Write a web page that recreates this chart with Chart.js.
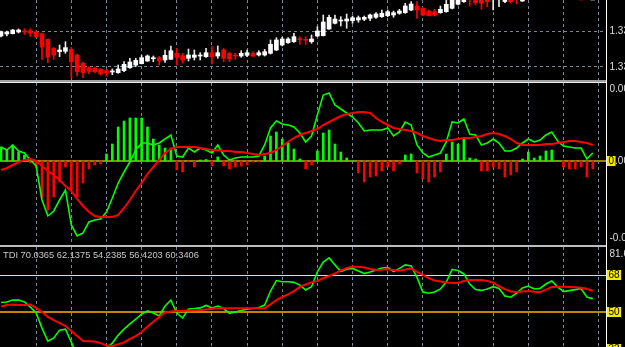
<!DOCTYPE html>
<html>
<head>
<meta charset="utf-8">
<script src="https://cdn.jsdelivr.net/npm/chart.js@4.4.0/dist/chart.umd.min.js"></script>
<style>
html, body { margin: 0; padding: 0; background: #000; }
#wrap { position: relative; width: 625px; height: 347px; overflow: hidden; background: #000; }
#wrap canvas { position: absolute; left: 0; }
.sep { position: absolute; left: 0; width: 606px; }
#axisLine { position: absolute; left: 606px; top: 0; width: 1px; height: 347px; background: #fff; }
</style>
</head>
<body>
<div id="wrap">
    <canvas id="pricePane" width="625" height="80" style="top:0"></canvas>
    <div class="sep" style="top:80px;height:2px;background:#a0a0a0"></div>
    <div class="sep" style="top:82px;height:1px;background:#ececec"></div>
    <canvas id="macdPane" width="625" height="162" style="top:83px"></canvas>
    <div class="sep" style="top:245px;height:2px;background:#bdbdbd"></div>
    <canvas id="tdiPane" width="625" height="100" style="top:247px"></canvas>
    <div id="axisLine"></div>
</div>
<script>
// --- price pane (candles) ---
const opens = [
    1.3331, 1.3333, 1.33333, 1.3335, 1.33355, 1.33363, 1.3335, 1.33333, 1.33277, 1.33187,
    1.33153, 1.33157, 1.33177, 1.3312, 1.33037, 1.32993, 1.32987, 1.32977, 1.32963, 1.3295,
    1.32943, 1.32963, 1.32993, 1.3302, 1.33033, 1.3306, 1.33083, 1.33093, 1.3307, 1.33077,
    1.33137, 1.33113, 1.33087, 1.33097, 1.3311, 1.33103, 1.33143, 1.3311, 1.3317, 1.33137,
    1.33116, 1.3311, 1.33117, 1.33137, 1.3312, 1.3312, 1.33137, 1.3317, 1.3322, 1.33243,
    1.33253, 1.3328, 1.33273, 1.33253, 1.3331, 1.33313, 1.3338, 1.33437, 1.3346, 1.3346,
    1.33463, 1.3347, 1.33477, 1.33487, 1.33497, 1.33503, 1.33513, 1.3352, 1.33537, 1.33543,
    1.3357, 1.3361, 1.33587, 1.3356, 1.33553, 1.33543, 1.33553, 1.33587, 1.33627, 1.33653,
    1.3373, 1.3370, 1.3369, 1.3370, 1.3369, 1.3370, 1.33655, 1.3370, 1.3373, 1.3366,
    1.3372, 1.3375, 1.3373, 1.3376, 1.3379, 1.3382, 1.3380, 1.3378, 1.3377, 1.3375,
    1.3374, 1.3371
];
const highs = [
    1.3336, 1.3336, 1.33375, 1.3338, 1.33383, 1.33383, 1.3336, 1.3334, 1.3328, 1.33195,
    1.3322, 1.33253, 1.33197, 1.3313, 1.3305, 1.33003, 1.3300, 1.32985, 1.32977, 1.3298,
    1.3302, 1.33053, 1.33087, 1.33087, 1.33115, 1.3312, 1.3311, 1.33105, 1.3317, 1.3321,
    1.33187, 1.33137, 1.3318, 1.3317, 1.33143, 1.33187, 1.33203, 1.3321, 1.33187, 1.3315,
    1.33137, 1.33163, 1.3317, 1.33153, 1.33163, 1.33177, 1.3327, 1.33293, 1.33297, 1.33293,
    1.33337, 1.33303, 1.33303, 1.3332, 1.33403, 1.3352, 1.3352, 1.3352, 1.33503, 1.3353,
    1.3351, 1.3351, 1.3351, 1.3353, 1.33543, 1.3357, 1.3357, 1.3356, 1.33577, 1.33637,
    1.33653, 1.33653, 1.33597, 1.3357, 1.33577, 1.3361, 1.3367, 1.3371, 1.3372, 1.3373,
    1.3375, 1.3372, 1.3371, 1.3372, 1.3375, 1.3376, 1.3371, 1.3372, 1.3375, 1.3372,
    1.3377, 1.3378, 1.3378, 1.3381, 1.3384, 1.3384, 1.3382, 1.3380, 1.3379, 1.3377,
    1.3376, 1.3374
];
const lows = [
    1.3330, 1.3331, 1.3333, 1.3334, 1.33327, 1.33307, 1.33293, 1.33077, 1.33043, 1.33077,
    1.33103, 1.33137, 1.32887, 1.3291, 1.32893, 1.3293, 1.3294, 1.3292, 1.3291, 1.32923,
    1.32937, 1.32953, 1.32987, 1.33003, 1.3303, 1.33055, 1.33053, 1.3302, 1.33047, 1.33075,
    1.3302, 1.33037, 1.3306, 1.3307, 1.3307, 1.33097, 1.3303, 1.33087, 1.33053, 1.33053,
    1.33077, 1.33097, 1.33103, 1.33103, 1.3311, 1.3311, 1.3313, 1.33163, 1.3321, 1.33237,
    1.33247, 1.33227, 1.33227, 1.33237, 1.33303, 1.3331, 1.33377, 1.3343, 1.3341, 1.33387,
    1.33437, 1.33447, 1.33463, 1.33463, 1.33487, 1.33497, 1.33503, 1.33497, 1.33527, 1.33537,
    1.33563, 1.33487, 1.3351, 1.3351, 1.3351, 1.33537, 1.33547, 1.3358, 1.3362, 1.33645,
    1.3361, 1.3362, 1.33577, 1.33603, 1.3357, 1.33603, 1.33643, 1.3364, 1.3363, 1.33655,
    1.3370, 1.3371, 1.3372, 1.3375, 1.3378, 1.3378, 1.3376, 1.3375, 1.3373, 1.3372,
    1.3370, 1.3369
];
const closes = [
    1.33353, 1.3335, 1.3337, 1.3337, 1.3335, 1.33337, 1.33303, 1.3320, 1.33097, 1.3312,
    1.3317, 1.33193, 1.33053, 1.32953, 1.32943, 1.32957, 1.32953, 1.3293, 1.3294, 1.32955,
    1.3298, 1.33027, 1.3305, 1.33067, 1.33093, 1.3311, 1.33089, 1.3306, 1.33117, 1.33163,
    1.33097, 1.3307, 1.3312, 1.3312, 1.33116, 1.33143, 1.33103, 1.33143, 1.33087, 1.3308,
    1.3311, 1.33137, 1.33143, 1.3311, 1.33143, 1.33153, 1.33227, 1.3327, 1.3328, 1.3328,
    1.33303, 1.33274, 1.33267, 1.3328, 1.3336, 1.3345, 1.33497, 1.3348, 1.33466, 1.3348,
    1.33493, 1.33493, 1.33497, 1.3352, 1.3353, 1.33537, 1.33553, 1.33543, 1.3356, 1.3361,
    1.3363, 1.3357, 1.3352, 1.33513, 1.3352, 1.33577, 1.33627, 1.3369, 1.3370, 1.3371,
    1.3369, 1.33643, 1.33637, 1.33653, 1.3373, 1.3374, 1.3369, 1.33653, 1.3369, 1.3370,
    1.3375, 1.3373, 1.3376, 1.3379, 1.3382, 1.3380, 1.3378, 1.3377, 1.3375, 1.3374,
    1.3371, 1.3372
];
const priceGrid = [1.3300, 1.3336];
const priceLabels = ['1.3300', '1.3336'];

// --- middle pane (histogram + two lines) ---
const histValues = [
    14, 11, 16, 9, 6, -2, -7, -37, -49, -36,
    -21, -6, -29, -36, -22, -8, -4, -3, 7, 17,
    34, 40, 43, 43, 43, 34, 22, 16, 13, 13,
    -9, -11, -1, -6, 1, 1.5, -5, 4, -5, -8,
    -6, -5, -4, -1, -1, 5, 25, 29, 22, 18,
    12, 2, -8, -4, 10, 28, 31, 17, 9, 3,
    0, -12, -21, -16, -15, -10, -6, -10, -3, 6,
    7, -12, -18, -21, -16, -11, 7, 19, 17, 22,
    3, 2, -10, -10, -6, -8, -16, -14, -11, 2,
    9, 3, 5, 10, 11, 0, -6, -8, -8, -6,
    -16, -8
];
const fastLine = [
    14, 11, 16, 10, 8, 1, -5, -39, -55, -50,
    -39, -29, -64, -75, -72, -61, -59, -58, -51, -37,
    -22, -11, -1, 11, 18, 18, 16, 18, 22, 26,
    5, 4, 13, 9, 13, 11, 8, 16, 6, 1,
    3, 4, 4, 4, 5, 16, 33, 40, 37, 36,
    34, 28, 19, 25, 46, 66, 68, 56, 52, 48,
    44, 38, 30, 31, 31, 31, 33, 25, 29, 39,
    36, 16, 8, 4, 6, 8, 19, 39, 38, 42,
    27, 26, 16, 18, 22, 18, 10, 10, 13, 18,
    22, 19, 21, 26, 29, 20, 15, 14, 13, 13,
    2, 8
];
const slowLine = [
    -9, -7, -4, -1, 1, 2, 0, -5, -10, -14,
    -19, -25, -30, -38, -45, -51, -55, -56, -56, -56,
    -54, -47, -39, -30, -22, -13, -6, 1, 8, 12,
    14, 14, 14, 14, 13, 12, 11, 11, 10, 10,
    9, 9, 8, 7, 6, 7, 8, 11, 15, 19,
    23, 26, 28, 30, 32, 36, 39, 42, 45, 47,
    48, 49, 49, 48, 43, 39, 36, 33, 32, 31,
    30, 28, 25, 23, 21, 20, 21, 21, 22, 23,
    23, 24, 25, 27, 28, 27, 25, 22, 18, 16,
    16, 16, 16, 17, 17, 18, 19, 20, 20, 19,
    18, 16
];
const macdLabels = ['0.0008', '0.0000', '-0.0008'];

// --- TDI pane ---
const tdiPrice = [
    54.6, 54.9, 55.8, 55.8, 54.9, 52.4, 49.5, 42.2, 35.9, 37.4,
    41.2, 41.7, 35.4, 29.1, 27.6, 27.6, 28.6, 30.5, 32.5, 34.9,
    38.8, 41.7, 44.2, 46.6, 49.0, 50.5, 49.5, 48.1, 52.9, 55.8,
    49.5, 47.1, 51.5, 51.7, 52.0, 53.2, 52.0, 52.9, 51.7, 49.3,
    50.0, 50.7, 51.5, 51.7, 52.2, 53.4, 60.2, 65.3, 64.7, 64.7,
    64.4, 63.1, 60.7, 62.3, 69.5, 74.3, 76.3, 72.9, 69.7, 70.8,
    71.2, 69.9, 68.7, 69.5, 70.4, 71.4, 71.6, 69.7, 71.2, 72.9,
    72.4, 66.8, 59.7, 59.1, 59.7, 61.2, 64.6, 70.7, 70.2, 68.5,
    63.6, 60.9, 60.5, 61.2, 62.3, 61.4, 57.8, 57.2, 59.2, 61.7,
    62.6, 61.2, 61.5, 63.6, 65.1, 62.2, 59.9, 60.4, 60.9, 61.4,
    57.3, 56.4
];
const tdiSignal = [
    52.7, 53.4, 53.7, 53.4, 53.4, 53.7, 52.0, 50.0, 47.6, 46.1,
    44.7, 43.2, 40.8, 38.3, 35.9, 35.8, 35.7, 34.9, 33.7, 33.5,
    34.4, 35.2, 36.9, 38.3, 40.3, 43.0, 45.3, 47.6, 49.8, 50.2,
    50.5, 50.5, 50.7, 50.8, 51.0, 51.2, 51.6, 51.8, 51.8, 51.8,
    51.8, 51.8, 51.8, 51.8, 51.8, 51.8, 53.7, 55.8, 57.3, 58.6,
    60.2, 62.2, 63.4, 64.4, 65.1, 66.4, 67.5, 68.7, 70.2, 71.4,
    72.0, 72.0, 71.6, 70.9, 70.4, 70.5, 70.8, 70.4, 70.1, 70.7,
    71.2, 69.5, 68.0, 66.5, 65.3, 64.8, 64.3, 64.1, 64.1, 65.1,
    65.6, 65.6, 65.6, 65.1, 64.3, 62.6, 61.1, 60.0, 59.7, 60.0,
    60.2, 59.8, 59.6, 60.9, 62.2, 62.3, 62.3, 62.2, 62.0, 61.8,
    61.2, 60.3
];
const tdiLevels = [68, 50, 32];
const tdiTop = '81.6';
const tdiTitle = 'TDI 70.0365 62.1375 54.2385 56.4203 60.3406';

// vertical grid every 6 bars
const gridBars = [6, 12, 18, 24, 30, 36, 42, 48, 54, 60, 66, 72, 78, 84, 90, 96, 102];

const X_MIN = -0.17;
const X_MAX = 103.26;
const GRID_COLOR = '#778899';
const AXIS_FONT = '10px "Liberation Sans", Arial, sans-serif';
const LIME = '#00ff00';
const RED = '#ff0000';

Chart.defaults.animation = false;
Chart.defaults.events = [];
Chart.defaults.plugins.legend.display = false;
Chart.defaults.plugins.tooltip.enabled = false;

function ejeX() {
    return {
        type: 'linear',
        min: X_MIN,
        max: X_MAX,
        offset: false,
        afterBuildTicks: (s) => { s.ticks = gridBars.map((v) => ({ value: v })); },
        afterFit: (s) => { s.height = 0; },
        ticks: { display: false },
        grid: { color: GRID_COLOR, lineWidth: 1, drawTicks: false, offset: false },
        border: { display: false, dash: [3, 3] }
    };
}

function puntos(arr) {
    return arr.map((v, i) => ({ x: i, y: v }));
}

// levels under the series, right-hand labels and titles on top
const paneDecor = {
    id: 'paneDecor',
    beforeDatasetsDraw(chart, args, opts) {
        const { ctx, chartArea: a } = chart;
        const y = chart.scales.y;
        (opts.levels || []).forEach((lv) => {
            const py = Math.round(y.getPixelForValue(lv.value)) + (lv.width % 2 ? 0.5 : 0);
            ctx.save();
            ctx.strokeStyle = lv.color;
            ctx.lineWidth = lv.width;
            ctx.beginPath();
            ctx.moveTo(a.left, py);
            ctx.lineTo(a.right, py);
            ctx.stroke();
            ctx.restore();
        });
    },
    afterDraw(chart, args, opts) {
        const { ctx, chartArea: a } = chart;
        const y = chart.scales.y;
        ctx.save();
        ctx.font = AXIS_FONT;
        ctx.textBaseline = 'middle';
        (opts.labels || []).forEach((lb) => {
            let py;
            if (lb.value !== undefined) py = y.getPixelForValue(lb.value);
            else if (lb.fromTop !== undefined) py = a.top + lb.fromTop;
            else py = a.bottom - lb.fromBottom;
            if (lb.box) {
                const w = ctx.measureText(lb.text).width;
                ctx.fillStyle = '#f5e900';
                ctx.fillRect(607, Math.round(py) - 5, w + 3, 10);
                ctx.fillStyle = '#000';
                ctx.fillText(lb.text, 608.5, py + 0.5);
            } else {
                ctx.fillStyle = '#dedede';
                ctx.fillText(lb.text, 609.5, py + 0.5);
            }
        });
        if (opts.title) {
            ctx.fillStyle = '#c8c8c8';
            ctx.font = '9.3px "Liberation Sans", Arial, sans-serif';
            ctx.fillText(opts.title, 3, a.top + 8);
        }
        ctx.restore();
    }
};
Chart.register(paneDecor);

// pane 1: candles as floating bars
const alcista = (i) => closes[i] >= opens[i];
new Chart(document.getElementById('pricePane'), {
    type: 'bar',
    data: {
        datasets: [
            {
                label: 'body',
                data: opens.map((o, i) => ({ x: i, y: [o, closes[i]] })),
                backgroundColor: (c) => (alcista(c.dataIndex) ? '#ffffff' : RED),
                barThickness: 4,
                minBarLength: 1,
                grouped: false,
                borderWidth: 0,
                order: 0,
                clip: 0
            },
            {
                label: 'wick',
                data: lows.map((l, i) => ({ x: i, y: [l, highs[i]] })),
                backgroundColor: (c) => (alcista(c.dataIndex) ? '#e8e8e8' : RED),
                barThickness: 1,
                grouped: false,
                borderWidth: 0,
                order: 1,
                clip: 0
            }
        ]
    },
    options: {
        responsive: false,
        layout: { padding: { left: 0, right: 19, top: 0, bottom: 0 } },
        scales: {
            x: ejeX(),
            y: {
                min: 1.3287,
                max: 1.3367,
                afterBuildTicks: (s) => { s.ticks = priceGrid.map((v) => ({ value: v })); },
                afterFit: (s) => { s.width = 0; },
                ticks: { display: false },
                grid: { color: GRID_COLOR, lineWidth: 1, drawTicks: false },
                border: { display: false, dash: [3, 3] }
            }
        },
        plugins: {
            paneDecor: {
                labels: priceGrid.map((v, i) => ({ value: v, text: priceLabels[i] }))
            }
        }
    }
});

// pane 2: histogram and the two averages
new Chart(document.getElementById('macdPane'), {
    type: 'bar',
    data: {
        datasets: [
            {
                type: 'line',
                data: puntos(slowLine),
                borderColor: RED,
                borderWidth: 2,
                pointRadius: 0,
                tension: 0,
                order: 0,
                clip: 0
            },
            {
                type: 'line',
                data: puntos(fastLine),
                borderColor: LIME,
                borderWidth: 1.6,
                pointRadius: 0,
                tension: 0,
                order: 1,
                clip: 0
            },
            {
                type: 'bar',
                data: puntos(histValues),
                backgroundColor: histValues.map((v) => (v >= 0 ? LIME : RED)),
                barThickness: 2,
                grouped: false,
                borderWidth: 0,
                order: 2,
                clip: 0
            }
        ]
    },
    options: {
        responsive: false,
        layout: { padding: { left: 0, right: 19, top: 0, bottom: 0 } },
        scales: {
            x: ejeX(),
            y: { display: false, min: -84, max: 78 }
        },
        plugins: {
            paneDecor: {
                levels: [{ value: 0, color: '#948600', width: 2 }],
                labels: [
                    { fromTop: 6, text: macdLabels[0] },
                    { value: 0, text: macdLabels[1] },
                    { value: 0, text: '0', box: true },
                    { fromBottom: 7, text: macdLabels[2] }
                ]
            }
        }
    }
});

// pane 3: TDI
new Chart(document.getElementById('tdiPane'), {
    type: 'line',
    data: {
        datasets: [
            {
                data: puntos(tdiSignal),
                borderColor: RED,
                borderWidth: 2,
                pointRadius: 0,
                tension: 0,
                order: 0,
                clip: 0
            },
            {
                data: puntos(tdiPrice),
                borderColor: LIME,
                borderWidth: 1.6,
                pointRadius: 0,
                tension: 0,
                order: 1,
                clip: 0
            }
        ]
    },
    options: {
        responsive: false,
        layout: { padding: { left: 0, right: 19, top: 0, bottom: 0 } },
        scales: {
            x: ejeX(),
            y: { display: false, min: 33.0, max: 81.6 }
        },
        plugins: {
            paneDecor: {
                title: tdiTitle,
                levels: [
                    { value: tdiLevels[0], color: '#ffff00', width: 1 },
                    { value: tdiLevels[1], color: '#b8860b', width: 2 },
                    { value: tdiLevels[2], color: '#b8860b', width: 1 }
                ],
                labels: [
                    { fromTop: 7, text: tdiTop },
                    { value: tdiLevels[0], text: String(tdiLevels[0]), box: true },
                    { value: tdiLevels[1], text: String(tdiLevels[1]), box: true },
                    { value: tdiLevels[2], text: String(tdiLevels[2]), box: true }
                ]
            }
        }
    }
});
</script>
</body>
</html>
